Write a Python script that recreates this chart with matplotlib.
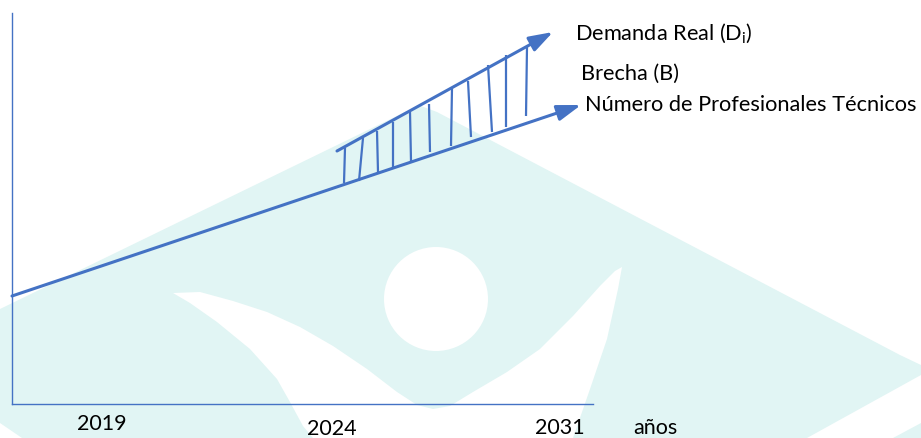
import matplotlib.pyplot as plt
from matplotlib.patches import Polygon, Ellipse

plt.rcParams['font.family'] = ['Lato', 'DejaVu Sans']
plt.rcParams['mathtext.fontset'] = 'custom'
plt.rcParams['mathtext.rm'] = 'Lato'

BLUE = '#4472C4'
CYAN = '#E1F5F4'

# --- diagram data (drawn in a 921 x 439 canvas, y grows downwards) ---
year_labels = ['2019', '2024', '2031']
year_x = [102, 332, 560]
year_y = [430, 435, 434]

# Numero de Profesionales Tecnicos (supply)
supply_x = [12, 581]
supply_y = [297, 106]
# Demanda Real (D_i)
demand_x = [337, 553]
demand_y = [152, 33]

# Brecha hatch strokes (top on demand line, bottom on supply line)
gap_top_x = [345, 363, 377, 393, 410, 429, 452, 468, 488, 506, 527]
gap_top_y = [149, 139, 132, 123, 113, 105, 89, 82, 66, 56, 48]
gap_bot_x = [344, 359, 378, 393, 411, 430, 451, 471, 492, 506, 526]
gap_bot_y = [184, 182, 173, 169, 162, 153, 147, 138, 133, 128, 117]

labels = ['Demanda Real (D$_\\mathrm{i}$)', 'Brecha (B)', 'Número de Profesionales Técnicos']
label_x = [575, 581, 585]
label_y = [40, 80, 111]

# background watermark outline
wm_x = [0, 405, 421, 437, 900, 921, 932, 921, 807, 414, 22, 0, -60, -60]
wm_y = [310, 113, 107, 113, 356, 366, 371, 376, 439, 660, 439, 424, 395, 335]
hole_x = [173, 200, 233, 267, 300, 333, 367, 397, 417, 433, 450, 473, 507, 540,
          573, 600, 615, 622, 618, 607, 590, 573, 313, 303, 290, 277, 250, 217, 190]
hole_y = [294, 293, 302, 313, 328, 347, 370, 393, 406, 410, 407, 393, 373, 350,
          317, 287, 272, 268, 290, 340, 390, 439, 439, 427, 403, 380, 350, 323, 304]
head_xy = (436, 300)
head_r = 52

fig = plt.figure(figsize=(9.21, 4.39), dpi=100)
ax = fig.add_axes([0, 0, 1, 1])
ax.set_xlim(0, 921)
ax.set_ylim(439, 0)
ax.axis('off')

# watermark
ax.add_patch(Polygon(list(zip(wm_x, wm_y)), closed=True, fc=CYAN, ec='none', zorder=0))
ax.add_patch(Polygon(list(zip(hole_x, hole_y)), closed=True, fc='white', ec='none', zorder=0.5))
ax.add_patch(Polygon([(921, 424), (921, 439), (893, 439)], closed=True, fc=CYAN, ec='none', zorder=0))
ax.add_patch(Ellipse(head_xy, 2 * head_r, 2 * head_r, fc='white', ec='none', zorder=0.5))

# axes
ax.plot([12, 12], [14, 405], color=BLUE, lw=1.0)
ax.plot([12, 593], [405, 405], color=BLUE, lw=1.0)

# trend arrows
for xs, ys in [(supply_x, supply_y), (demand_x, demand_y)]:
    ax.annotate('', xy=(xs[1], ys[1]), xytext=(xs[0], ys[0]),
                arrowprops=dict(arrowstyle='-|>,head_length=0.9,head_width=0.3',
                                mutation_scale=16, lw=2.2, color=BLUE,
                                shrinkA=0, shrinkB=0))

# gap hatching
for x0, y0, x1, y1 in zip(gap_top_x, gap_top_y, gap_bot_x, gap_bot_y):
    ax.plot([x0, x1], [y0, y1], color=BLUE, lw=1.6, solid_capstyle='butt')

for t, x, y in zip(labels, label_x, label_y):
    ax.text(x, y, t, fontsize=15.7, ha='left', va='baseline', color='black')

for t, x, y in zip(year_labels, year_x, year_y):
    ax.text(x, y, t, fontsize=15.5, ha='center', va='baseline', color='black')
ax.text(655, 434, 'años', fontsize=15.5, ha='center', va='baseline', color='black')

fig.savefig('out.png', dpi=100)
